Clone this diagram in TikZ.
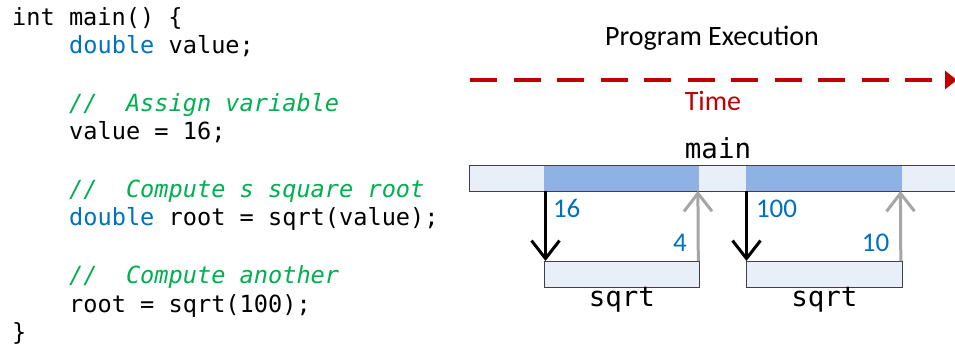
\documentclass[tikz,border=0pt]{standalone}
\usepackage{fontspec}
\usepackage{xcolor}
\usetikzlibrary{arrows.meta,positioning}
\newfontfamily\codefont{DejaVu Sans Mono}
\newfontfamily\labelfont{Carlito}
\definecolor{kwblue}{HTML}{0070C0}
\definecolor{cmtgreen}{HTML}{00B050}
\definecolor{timered}{HTML}{C00000}
\definecolor{framefill}{HTML}{E9EFF8}
\definecolor{activefill}{HTML}{8EB2E3}
\definecolor{retgray}{HTML}{A6A6A6}
\newcommand{\kw}[1]{\textcolor{kwblue}{#1}}
\newcommand{\cmt}[1]{\textcolor{cmtgreen}{\itshape #1}}
\tikzset{
  codeline/.style={anchor=base west, inner sep=0pt, font=\codefont\fontsize{23.6}{28}\selectfont},
  frame/.style={draw=black!75, line width=0.8pt, fill=framefill, inner sep=0pt, minimum height=26pt},
  active/.style={fill=activefill, inner sep=0pt, minimum height=25pt},
  fname/.style={anchor=base, inner sep=0pt, font=\codefont\fontsize{27.5}{30}\selectfont},
  numlbl/.style={inner sep=0pt, text=kwblue, font=\labelfont\fontsize{27}{28}\selectfont},
  headlbl/.style={anchor=base, inner sep=0pt, font=\labelfont\fontsize{28}{30}\selectfont},
  timeline/.style={draw=timered, line width=4pt, dash pattern=on 27pt off 16.5pt,
    -{Triangle[length=12pt, width=18pt]}},
  callarrow/.style={line width=3pt, -{Straight Barb[length=18pt, width=28pt]}},
  retarrow/.style={callarrow, draw=retgray},
}

\begin{document}
\begin{tikzpicture}[x=1pt, y=-1pt]
	\useasboundingbox (0,0) rectangle (955,346);
	% source code
	\node[codeline] (l1) at (12,25) {int main() \{};
	\node[codeline] (l2) at (69,53.7) {\kw{double} value;};
	\node[codeline] (l3) at (69,111.1) {\cmt{//\ \ Assign variable}};
	\node[codeline] (l4) at (69,139.8) {value = 16;};
	\node[codeline] (l5) at (69,197.2) {\cmt{//\ \ Compute s square root}};
	\node[codeline] (l6) at (69,225.9) {\kw{double} root = sqrt(value);};
	\node[codeline] (l7) at (69,283.3) {\cmt{//\ \ Compute another}};
	\node[codeline] (l8) at (69,312) {root = sqrt(100);};
	\node[codeline] (l9) at (12,340.7) {\}};
	% time axis
	\node[headlbl] (title) at (712,45) {Program Execution};
	\coordinate (tstart) at (470,80);
	\coordinate (tend) at (957,80);
	\draw[timeline] (tstart) -- (tend);
	\node[headlbl, text=timered] (time) at (713,110) {Time};
	% call frames
	\node[frame, minimum width=491pt, anchor=north west] (mainbar) at (469,165) {};
	\node[active, minimum width=155pt, anchor=north west] (call1) at (544,165.5) {};
	\node[active, minimum width=156pt, anchor=north west] (call2) at (746,165.5) {};
	\node[fname] (mainlbl) at (718,158) {main};
	\node[frame, minimum width=155pt, anchor=north west] (sqrt1) at (544,261) {};
	\node[frame, minimum width=156pt, anchor=north west] (sqrt2) at (746,261) {};
	\node[fname] (sqrtlbl1) at ([yshift=-19pt]sqrt1.south) {sqrt};
	\node[fname] (sqrtlbl2) at ([yshift=-19pt]sqrt2.south) {sqrt};
	% calls and returns
	\draw[callarrow] ([xshift=1.5pt]call1.south west) --
		node[numlbl, pos=0.376, anchor=base west, xshift=6pt] {16} ([xshift=1.5pt]sqrt1.north west);
	\draw[retarrow] ([xshift=-1.5pt]sqrt1.north east) --
		node[numlbl, pos=0.13, anchor=base east, xshift=-10pt] {4} ([xshift=-1.5pt]call1.south east);
	\draw[callarrow] ([xshift=0.5pt]call2.south west) --
		node[numlbl, pos=0.376, anchor=base west, xshift=8pt] {100} ([xshift=0.5pt]sqrt2.north west);
	\draw[retarrow] ([xshift=-2pt]sqrt2.north east) --
		node[numlbl, pos=0.13, anchor=base east, xshift=-10pt] {10} ([xshift=-2pt]call2.south east);
\end{tikzpicture}
\end{document}
